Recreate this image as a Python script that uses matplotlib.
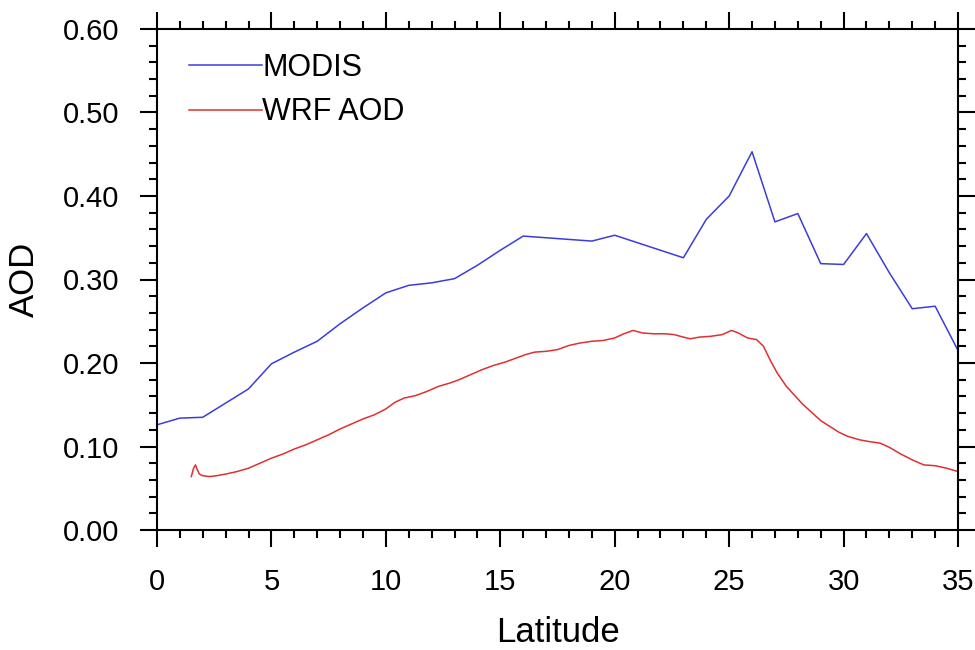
import matplotlib
matplotlib.use("Agg")
import matplotlib.pyplot as plt
from matplotlib.ticker import MultipleLocator

# MODIS AOD averaged per latitude degree
modis_lat = list(range(0, 36))
modis_aod = [0.126, 0.134, 0.135, 0.152, 0.169, 0.199, 0.213, 0.226, 0.247, 0.266,
             0.284, 0.293, 0.296, 0.301, 0.317, 0.335, 0.352, 0.350, 0.348, 0.346,
             0.353, 0.344, 0.335, 0.326, 0.372, 0.400, 0.453, 0.369, 0.379, 0.319,
             0.318, 0.355, 0.308, 0.265, 0.268, 0.215]

# WRF AOD (model grid latitudes)
wrf_lat = [1.50, 1.60, 1.68, 1.75, 1.85, 2.0, 2.3, 2.6, 3.0, 3.5, 4.0, 4.5, 5.0, 5.5,
           6.0, 6.5, 7.0, 7.5, 8.0, 8.5, 9.0, 9.5, 10.0, 10.4, 10.8, 11.3, 11.8, 12.3,
           12.8, 13.2, 13.7, 14.2, 14.7, 15.2, 15.7, 16.1, 16.5, 17.0, 17.5, 18.0,
           18.5, 19.0, 19.5, 20.0, 20.4, 20.8, 21.2, 21.7, 22.2, 22.6, 23.0, 23.3,
           23.7, 24.2, 24.7, 25.1, 25.4, 25.8, 26.2, 26.5, 26.8, 27.1, 27.5, 27.9,
           28.2, 28.6, 29.0, 29.4, 29.8, 30.2, 30.7, 31.1, 31.6, 32.0, 32.5, 33.0,
           33.5, 34.0, 34.5, 35.0]
wrf_aod = [0.064, 0.074, 0.078, 0.073, 0.067, 0.065, 0.064, 0.065, 0.067, 0.070,
           0.074, 0.080, 0.086, 0.091, 0.097, 0.102, 0.108, 0.114, 0.121, 0.127,
           0.133, 0.138, 0.145, 0.153, 0.158, 0.161, 0.166, 0.172, 0.176, 0.180,
           0.186, 0.192, 0.197, 0.201, 0.206, 0.210, 0.213, 0.214, 0.216, 0.221,
           0.224, 0.226, 0.227, 0.230, 0.235, 0.239, 0.236, 0.235, 0.235, 0.234,
           0.231, 0.229, 0.231, 0.232, 0.234, 0.239, 0.236, 0.230, 0.228, 0.220,
           0.203, 0.188, 0.172, 0.160, 0.151, 0.141, 0.131, 0.124, 0.117, 0.112,
           0.108, 0.106, 0.104, 0.099, 0.091, 0.084, 0.078, 0.077, 0.074, 0.070]

plt.rcParams['font.family'] = ['Liberation Sans', 'DejaVu Sans']

fig = plt.figure(figsize=(9.75, 6.5), dpi=100)
ax = fig.add_axes([0.161, 0.1846, 0.8216, 0.7708])

ax.plot(modis_lat, modis_aod, color='#3c3cdc', lw=1.1, label='MODIS')
ax.plot(wrf_lat, wrf_aod, color='#e03030', lw=1.1, label='WRF AOD')

ax.set_xlim(0, 35)
ax.set_ylim(0, 0.6)
ax.xaxis.set_major_locator(MultipleLocator(5))
ax.xaxis.set_minor_locator(MultipleLocator(1))
ax.yaxis.set_major_locator(MultipleLocator(0.1))
ax.yaxis.set_minor_locator(MultipleLocator(0.02))
ax.yaxis.set_major_formatter(lambda v, p: f"{v:.2f}")

for s in ax.spines.values():
    s.set_linewidth(1.5)
ax.tick_params(which='both', direction='out', top=True, right=True, width=1.5,
               labelsize=21)
ax.tick_params(which='major', length=12, pad=15)
ax.tick_params(which='minor', length=6)

ax.set_xlabel('Latitude', fontsize=25, labelpad=15)
ax.set_ylabel('AOD', fontsize=25, labelpad=16)

ax.legend(loc='upper left', bbox_to_anchor=(0.04, 0.952), frameon=False,
          fontsize=22, handlelength=2.4, handletextpad=0.0, labelspacing=0.47,
          borderpad=0, borderaxespad=0)

fig.savefig('out.png', dpi=100)
